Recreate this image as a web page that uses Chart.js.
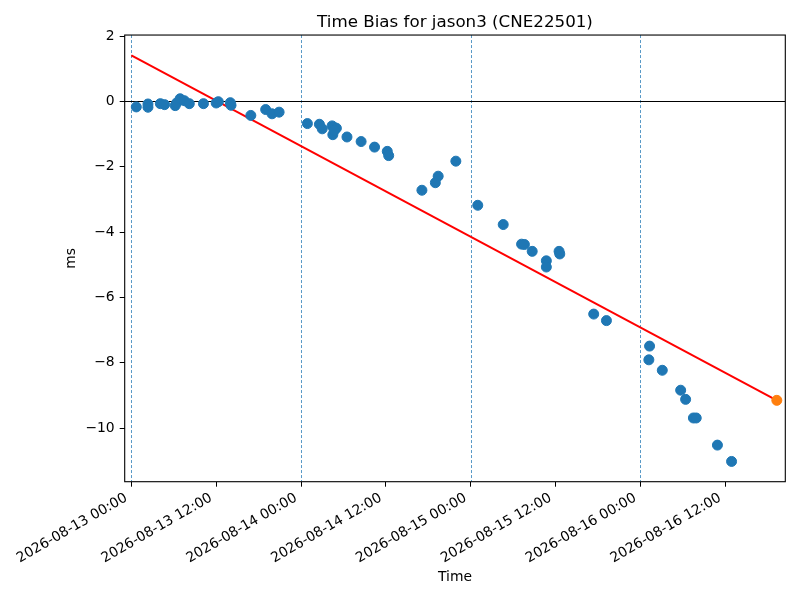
<!DOCTYPE html>
<html>
<head>
<meta charset="utf-8">
<script src="https://cdn.jsdelivr.net/npm/chart.js@4/dist/chart.umd.min.js"></script>
<style>
	html, body { margin: 0; padding: 0; background: #fff; }
	#wrap { width: 800px; height: 600px; position: relative; }
</style>
</head>
<body>
<div id="wrap"><canvas id="bias"></canvas></div>
<script>
// hours since 2026-08-13 00:00, bias in ms
const OBS_HOURS = [
	0.7, 2.35, 2.35, 4.1, 4.7, 6.2, 6.4, 6.9, 7.5, 8.2,
	10.2, 12.0, 12.3, 14.0, 14.1, 16.9, 19.0, 19.9, 20.9,
	24.9, 26.6, 27.0, 28.4, 29.0, 28.5, 28.7, 30.5, 32.5, 34.4, 36.2, 36.4,
	41.1, 43.0, 43.4, 45.9,
	49.0, 52.6, 55.2, 55.6, 56.7, 58.7, 58.7, 60.5, 60.6, 65.4, 67.2,
	73.3, 73.2, 75.1, 77.7, 78.4, 79.5, 79.9, 82.9, 84.9
];
const OBS_MS = [
	-0.17, -0.08, -0.18, -0.07, -0.10, -0.13, -0.05, 0.08, 0.02, -0.07,
	-0.07, -0.05, -0.01, -0.04, -0.12, -0.43, -0.25, -0.38, -0.33,
	-0.68, -0.70, -0.84, -0.75, -0.82, -1.02, -0.89, -1.09, -1.23, -1.40, -1.53, -1.66,
	-2.72, -2.49, -2.29, -1.83,
	-3.18, -3.77, -4.37, -4.38, -4.59, -4.88, -5.07, -4.59, -4.67, -6.51, -6.71,
	-7.49, -7.91, -8.23, -8.84, -9.12, -9.69, -9.69, -10.52, -11.02
];
const FIT_HOURS  = [0, 91.3];
const FIT_MS     = [1.41, -9.15];
const PRED_HOURS = [91.3];
const PRED_MS    = [-9.15];

const DAY_HOURS    = [0, 24, 48, 72];
const X_TICK_HOURS = [0, 12, 24, 36, 48, 60, 72, 84];
const X_TICK_LABELS = [
	'2026-08-13 00:00', '2026-08-13 12:00',
	'2026-08-14 00:00', '2026-08-14 12:00',
	'2026-08-15 00:00', '2026-08-15 12:00',
	'2026-08-16 00:00', '2026-08-16 12:00'
];
const Y_TICKS = [-10, -8, -6, -4, -2, 0, 2];

const BLUE   = '#1f77b4';
const ORANGE = '#ff7f0e';

Chart.defaults.font.family = "'DejaVu Sans', sans-serif";
Chart.defaults.font.size   = 13.9;
Chart.defaults.color       = '#000';

const zip = (xs, ys) => xs.map((x, i) => ({ x, y: ys[i] }));

// day lines + zero line behind the points, frame on top
const refLines = {
	id: 'refLines',
	beforeDatasetsDraw(chart) {
		const { ctx, chartArea: a, scales: { x, y } } = chart;
		ctx.save();
		ctx.beginPath();
		ctx.rect(a.left, a.top, a.right - a.left, a.bottom - a.top);
		ctx.clip();
		ctx.strokeStyle = 'rgba(31,119,180,0.75)';
		ctx.lineWidth = 1;
		ctx.setLineDash([3, 2]);
		DAY_HOURS.forEach(h => {
			const px = Math.round(x.getPixelForValue(h)) + 0.5;
			ctx.beginPath();
			ctx.moveTo(px, a.top);
			ctx.lineTo(px, a.bottom);
			ctx.stroke();
		});
		ctx.setLineDash([]);
		ctx.strokeStyle = '#000';
		ctx.lineWidth = 1;
		const py = Math.round(y.getPixelForValue(0)) + 0.5;
		ctx.beginPath();
		ctx.moveTo(a.left, py);
		ctx.lineTo(a.right, py);
		ctx.stroke();
		ctx.restore();
	},
	afterDraw(chart) {
		const { ctx, chartArea: a } = chart;
		ctx.save();
		ctx.strokeStyle = '#000';
		ctx.lineWidth = 1.1;
		ctx.strokeRect(a.left, a.top, a.right - a.left, a.bottom - a.top);
		ctx.restore();
	}
};

new Chart(document.getElementById('bias'), {
	type: 'scatter',
	data: { datasets: [
		{
			label: 'bias',
			data: zip(OBS_HOURS, OBS_MS),
			backgroundColor: BLUE,
			borderColor: BLUE,
			pointRadius: 5,
			pointHoverRadius: 5,
			order: 1
		},
		{
			type: 'line',
			label: 'fit',
			data: zip(FIT_HOURS, FIT_MS),
			borderColor: '#ff0000',
			borderWidth: 2,
			pointRadius: 0,
			fill: false,
			order: 2
		},
		{
			label: 'prediction',
			data: zip(PRED_HOURS, PRED_MS),
			backgroundColor: ORANGE,
			borderColor: ORANGE,
			pointRadius: 5,
			order: 0
		}
	]},
	options: {
		responsive: true,
		maintainAspectRatio: false,
		animation: false,
		layout: { padding: { left: 0, right: 14.7, top: 0, bottom: 0 } },
		plugins: {
			legend: { display: false },
			tooltip: { enabled: false },
			title: {
				display: true,
				text: 'Time Bias for jason3 (CNE22501)',
				fullSize: false,
				font: { size: 16.7, weight: 'normal' },
				padding: { top: 13, bottom: 2 }
			}
		},
		scales: {
			x: {
				type: 'linear',
				min: -0.94,
				max: 92.5,
				afterBuildTicks: s => { s.ticks = X_TICK_HOURS.map(v => ({ value: v })); },
				afterFit: s => { s.height = 118.3; },
				ticks: {
					callback: v => X_TICK_LABELS[X_TICK_HOURS.indexOf(v)],
					minRotation: 30,
					maxRotation: 30,
					autoSkip: false,
					labelOffset: -5,
					padding: 3
				},
				grid: { drawOnChartArea: false, color: '#000', tickLength: 5 },
				border: { display: false },
				title: { display: true, text: 'Time', padding: { top: 4, bottom: 14.7 } }
			},
			y: {
				min: -11.64,
				max: 2.03,
				afterBuildTicks: s => { s.ticks = Y_TICKS.map(v => ({ value: v })); },
				afterFit: s => { s.width = 124.7; },
				ticks: {
					callback: v => v < 0 ? '\u2212' + Math.abs(v) : String(v),
					padding: 5
				},
				grid: { drawOnChartArea: false, color: '#000', tickLength: 5 },
				border: { display: false },
				title: { display: true, text: 'ms', padding: { top: 63.4, bottom: 4 } }
			}
		}
	},
	plugins: [refLines]
});
</script>
</body>
</html>
